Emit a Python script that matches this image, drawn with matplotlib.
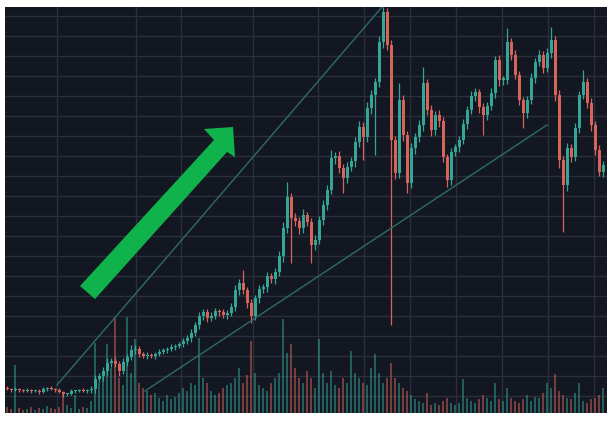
import matplotlib
matplotlib.use("Agg")
import matplotlib.pyplot as plt
from matplotlib.patches import Polygon

# closing prices (chart units), one per candle
closes = [
    24, 23, 24, 23, 22, 23, 22, 22, 21, 24,
    25, 24, 23, 21, 19, 19, 22, 22, 23, 22,
    23, 24, 34, 37, 42, 50, 52, 49, 42, 51,
    56, 63, 64, 59, 57, 58, 57, 59, 61, 63,
    64, 66, 67, 69, 72, 75, 80, 88, 97, 101,
    95, 97, 102, 101, 98, 100, 106, 123, 130, 123,
    110, 97, 115, 124, 126, 137, 134, 141, 157, 185,
    216, 195, 192, 185, 198, 191, 168, 173, 193, 208,
    223, 255, 257, 245, 235, 246, 252, 271, 286, 276,
    305, 318, 331, 371, 401, 368, 273, 240, 313, 278,
    230, 265, 276, 288, 330, 303, 283, 298, 292, 256,
    233, 261, 266, 273, 289, 303, 317, 321, 306, 298,
    307, 320, 353, 333, 333, 371, 358, 338, 313, 300,
    313, 335, 351, 358, 345, 360, 373, 318, 253, 228,
    265, 256, 285, 318, 331, 310, 288, 263, 241, 248,
]
first_open = 25
upper = [
    2, 1, 2, 1, 1, 2, 1, 1, 2, 2,
    1, 2, 1, 2, 1, 1, 2, 1, 1, 2,
    1, 3, 4, 3, 4, 5, 3, 4, 3, 4,
    3, 5, 4, 3, 2, 3, 2, 2, 3, 2,
    2, 3, 2, 2, 3, 3, 4, 3, 4, 3,
    3, 4, 3, 2, 3, 3, 4, 5, 4, 13,
    3, 4, 3, 4, 3, 4, 3, 4, 5, 6,
    15, 4, 5, 4, 6, 3, 4, 5, 4, 5,
    5, 8, 4, 5, 4, 5, 4, 5, 6, 5,
    6, 5, 4, 6, 5, 4, 5, 4, 17, 5,
    4, 5, 4, 5, 16, 4, 5, 4, 5, 4,
    3, 4, 3, 4, 5, 4, 5, 4, 3, 4,
    4, 5, 4, 5, 4, 14, 4, 5, 4, 3,
    4, 5, 4, 5, 4, 5, 13, 4, 5, 4,
    5, 4, 5, 4, 12, 4, 5, 4, 5, 4,
]
lower = [
    1, 2, 1, 2, 1, 1, 2, 1, 2, 1,
    2, 1, 2, 1, 3, 2, 1, 2, 1, 1,
    2, 3, 4, 3, 5, 4, 4, 3, 5, 3,
    4, 3, 4, 3, 2, 3, 2, 3, 2, 2,
    3, 2, 3, 2, 3, 3, 4, 3, 4, 4,
    4, 3, 3, 4, 3, 4, 3, 4, 5, 4,
    5, 7, 4, 5, 4, 5, 4, 5, 4, 6,
    5, 45, 5, 6, 5, 4, 18, 5, 4, 5,
    5, 4, 6, 5, 15, 5, 4, 6, 5, 23,
    5, 6, 60, 5, 6, 5, 185, 6, 5, 6,
    10, 5, 6, 5, 6, 5, 6, 5, 6, 5,
    7, 5, 4, 5, 4, 5, 4, 5, 6, 20,
    5, 4, 5, 6, 5, 4, 5, 4, 5, 15,
    5, 4, 5, 4, 5, 4, 5, 6, 8, 47,
    6, 5, 4, 5, 4, 5, 6, 5, 4, 5,
]
volume = [
    6, 4, 48, 5, 3, 4, 6, 3, 5, 4, 7, 5, 4, 6, 20, 8, 5, 18, 4, 6, 5, 12,
    70, 30, 40, 69, 45, 95, 35, 28, 96, 40, 74, 30, 25, 22, 18, 20, 15, 12,
    18, 14, 16, 20, 25, 22, 30, 28,
    75, 35, 30, 22, 18, 20, 25, 28, 30, 35, 45, 30, 38, 72, 40, 28, 25, 22,
    30, 35, 40, 94, 60, 69, 45, 35, 30, 42, 35, 25, 74, 40, 30, 42, 28, 25,
    35, 30, 62, 40, 35, 30, 28, 45, 59, 40, 30, 35,
    50, 35, 30, 25, 22, 18, 14, 12, 10, 20, 8, 10, 8, 12, 15, 10, 8, 10, 34,
    15, 12, 10, 14, 18, 15, 12, 30, 14, 12, 25, 15, 12, 10, 14, 18, 12, 16,
    15, 20, 30, 25, 39, 22, 18, 15, 14, 20, 30, 12, 10, 14, 15, 18, 25,
]

# trend lines drawn on the chart: (candle index, price)
upper_trend = [(12.5, 28), (93.75, 406)]
lower_trend = [(34.5, 22), (135, 288)]

BG = "#131722"
GRID = "#2a2f3b"
UP = "#35a595"
DOWN = "#d7645a"

opens = [first_open] + closes[:-1]
idx = list(range(len(closes)))
highs = [max(o, c) + u for o, c, u in zip(opens, closes, upper)]
lows = [min(o, c) - l for o, c, l in zip(opens, closes, lower)]
colors = [UP if c >= o else DOWN for o, c in zip(opens, closes)]

fig = plt.figure(figsize=(6.14, 4.23), dpi=100, facecolor="white")
pos = [5 / 614, 10 / 423, 602 / 614, 406 / 423]

# background + grid
ax = fig.add_axes(pos)
ax.set_facecolor(BG)
ax.set_xlim(-0.5, 150)
ax.set_ylim(0, 406)
ax.set_xticks([12.5, 32.25, 43.5, 61.5, 77.75, 89.25, 100.75, 112.25,
               123.75, 135.25, 146.75])
ax.set_yticks(list(range(17, 406, 20)))
ax.grid(True, color=GRID, linewidth=1.0)
ax.tick_params(length=0, labelbottom=False, labelleft=False)
for s in ax.spines.values():
    s.set_visible(False)

# volume at the bottom
vol_ax = ax.twinx()
vol_ax.set_ylim(0, 406)
vol_ax.bar(idx, volume, width=0.55, color=colors, alpha=0.5, linewidth=0)
vol_ax.axis("off")

# candles
price_ax = fig.add_axes(pos, sharex=ax)
price_ax.patch.set_visible(False)
price_ax.vlines(idx, lows, highs, colors=colors, linewidth=0.9)
bodies = [max(abs(c - o), 1.5) for o, c in zip(opens, closes)]
price_ax.bar(idx, bodies, bottom=[min(o, c) for o, c in zip(opens, closes)],
             width=0.75, color=colors, linewidth=0)
for line in (upper_trend, lower_trend):
    price_ax.plot([p[0] for p in line], [p[1] for p in line],
                  color="#2c6d66", linewidth=1.0)
price_ax.set_ylim(0, 406)
price_ax.axis("off")

# big green arrow, in image pixel space
overlay = fig.add_axes([0, 0, 1, 1])
overlay.set_xlim(0, 614)
overlay.set_ylim(423, 0)
overlay.axis("off")
arrow = [(80, 286), (214, 140), (204, 129), (233, 127), (235, 157),
         (227, 152), (95, 299)]
overlay.add_patch(Polygon(arrow, closed=True, facecolor="#10b24c",
                          edgecolor="none"))

fig.savefig("out.png", dpi=100, facecolor="white")
